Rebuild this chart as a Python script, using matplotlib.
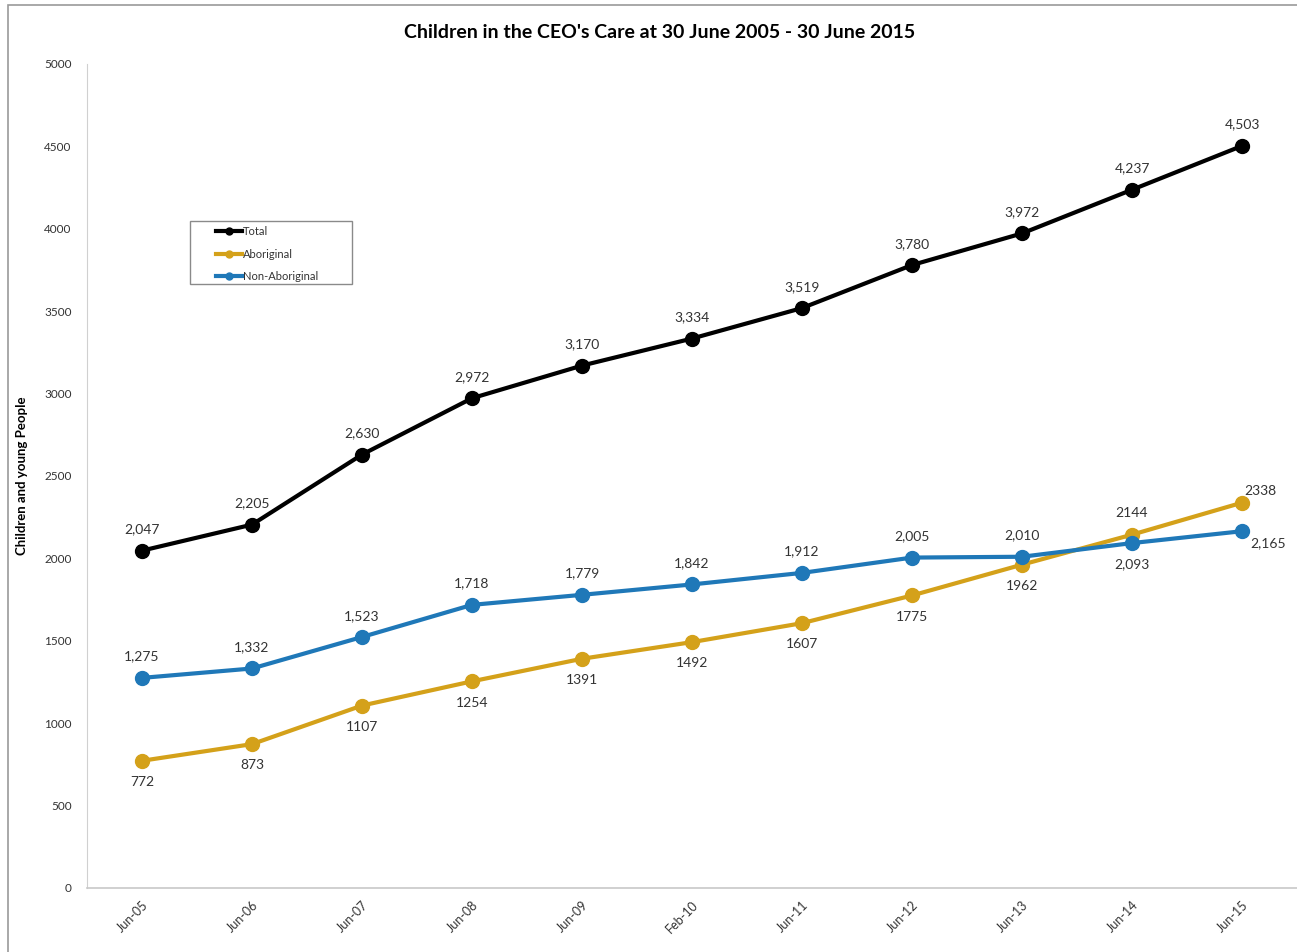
import matplotlib.pyplot as plt
from matplotlib.patches import Rectangle
from matplotlib.lines import Line2D

# data
months = ['Jun-05', 'Jun-06', 'Jun-07', 'Jun-08', 'Jun-09', 'Feb-10',
          'Jun-11', 'Jun-12', 'Jun-13', 'Jun-14', 'Jun-15']
total = [2047, 2205, 2630, 2972, 3170, 3334, 3519, 3780, 3972, 4237, 4503]
aboriginal = [772, 873, 1107, 1254, 1391, 1492, 1607, 1775, 1962, 2144, 2338]
non_aboriginal = [1275, 1332, 1523, 1718, 1779, 1842, 1912, 2005, 2010, 2093, 2165]

plt.rcParams['font.family'] = ['Lato', 'DejaVu Sans']

BLACK = '#000000'
GOLD = '#D4A11A'
BLUE = '#1F78B8'
TEXT = '#333333'

W, H = 1297, 952
fig = plt.figure(figsize=(W / 100, H / 100), dpi=100)
ax = fig.add_axes([87 / W, 64 / H, 1 - 87 / W, 824 / H])


def px_box(x0, y0, x1, y1):
    """figure-fraction rectangle from pixel corners (top-left origin)"""
    return (x0 / W, 1 - y1 / H), (x1 - x0) / W, (y1 - y0) / H


# chart frame (cut off on the right/bottom like the source)
xy, w, h = px_box(8, 5, W + 20, H + 20)
fig.patches.append(Rectangle(xy, w, h, transform=fig.transFigure,
                             fill=False, edgecolor='#9a9a9a', linewidth=1.2))

x = list(range(len(months)))
for vals, col in [(total, BLACK), (aboriginal, GOLD), (non_aboriginal, BLUE)]:
    ax.plot(x, vals, color=col, linewidth=3, marker='o', markersize=10, zorder=3)

# data labels
FS = 10
for i, v in enumerate(total):
    ax.annotate(f'{v:,}', (i, v), xytext=(0, 11), textcoords='offset points',
                ha='center', va='bottom', fontsize=FS, color=TEXT)

for i, v in enumerate(non_aboriginal):
    if i == 9:
        off, va, ha = (0, -11), 'top', 'center'
    elif i == 10:
        off, va, ha = (6, -4), 'top', 'left'
    else:
        off, va, ha = (0, 11), 'bottom', 'center'
    ax.annotate(f'{v:,}', (i, v), xytext=off, textcoords='offset points',
                ha=ha, va=va, fontsize=FS, color=TEXT)

for i, v in enumerate(aboriginal):
    if i == 9:
        off, va, ha = (0, 11), 'bottom', 'center'
    elif i == 10:
        off, va, ha = (13, 4), 'bottom', 'center'
    else:
        off, va, ha = (0, -11), 'top', 'center'
    ax.annotate(f'{v}', (i, v), xytext=off, textcoords='offset points',
                ha=ha, va=va, fontsize=FS, color=TEXT)

ax.set_xlim(-0.5, len(months) - 0.5)
ax.set_ylim(0, 5000)
ax.set_yticks(range(0, 5001, 500))
ax.set_xticks(x)
ax.set_xticklabels(months, rotation=45, ha='right', rotation_mode='anchor', fontsize=9, color=TEXT)
ax.tick_params(axis='y', length=0, labelsize=8.5, labelcolor=TEXT, pad=11)
ax.tick_params(axis='x', length=0, pad=8)

for s in ['top', 'right']:
    ax.spines[s].set_visible(False)
ax.spines['left'].set_color('#d0d0d0')
ax.spines['bottom'].set_color('#c8c8c8')
ax.spines['bottom'].set_linewidth(1.2)

ax.set_ylabel('Children and young People', fontsize=9.5, fontweight='bold', labelpad=12)
fig.text(660 / W, 1 - 32 / H, "Children in the CEO's Care at 30 June 2005 - 30 June 2015",
         ha='center', va='center', fontsize=14, fontweight='bold')

# legend: frame drawn separately to keep the wide box of the original
xy, w, h = px_box(190, 221, 352, 284)
fig.patches.append(Rectangle(xy, w, h, transform=fig.transFigure,
                             fill=False, edgecolor='#8a8a8a', linewidth=1))
handles = [Line2D([], [], color=c, linewidth=3, marker='o', markersize=5)
           for c in (BLACK, GOLD, BLUE)]
leg = fig.legend(handles, ['Total', 'Aboriginal', 'Non-Aboriginal'],
                 loc='upper left', bbox_to_anchor=(216 / W, 1 - 226 / H),
                 fontsize=8, frameon=False, handlelength=2.3, handletextpad=0.1,
                 borderpad=0, labelspacing=1.05, borderaxespad=0)
for t in leg.get_texts():
    t.set_color(TEXT)

fig.savefig('out.png', dpi=100)
